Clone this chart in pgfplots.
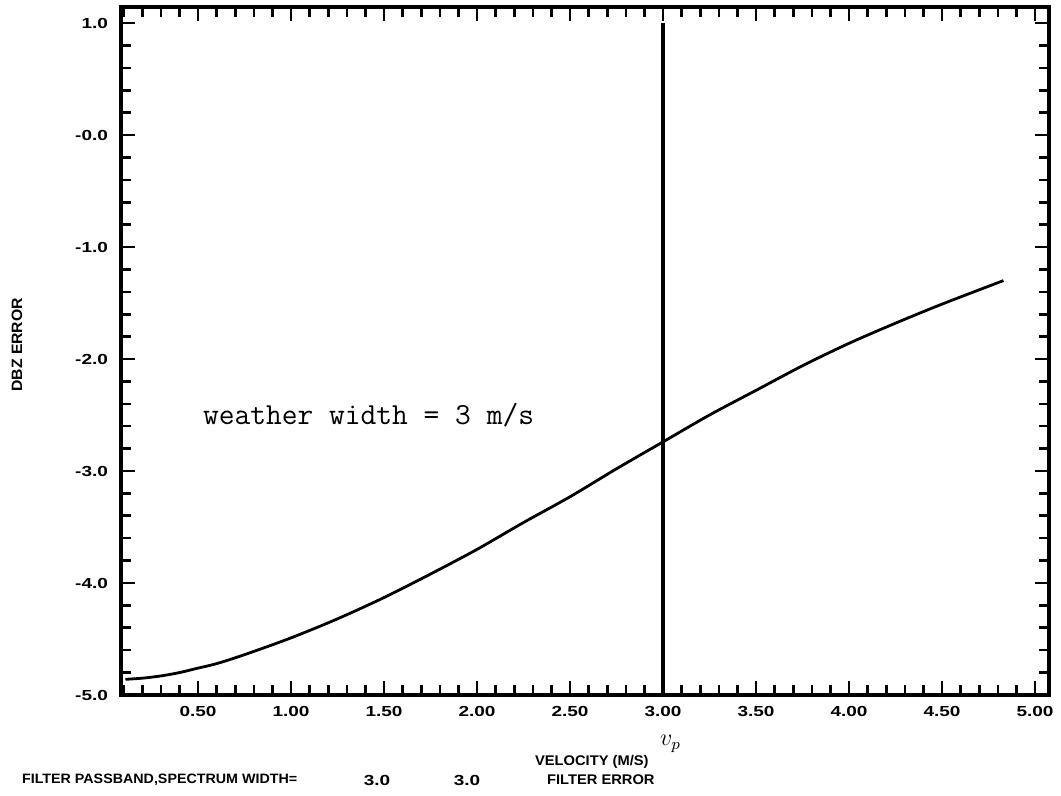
\documentclass[border=0pt]{standalone}
\usepackage{pgfplots}
\pgfplotsset{compat=1.18}
\usepackage{fontspec}
\newfontfamily\digitfont[FakeStretch=1.3]{Liberation Sans}
\newfontfamily\plottxt[FakeStretch=1.05]{Liberation Sans}
\begin{document}
\begin{tikzpicture}
\begin{axis}[
    scale only axis,
    width=464pt, height=344pt,
    xmin=0.086, xmax=5.075,
    ymin=-5, ymax=1.143,
    clip=false,
    axis line style={line width=2pt},
    tick align=inside,
    tick style={black, line width=1.3pt},
    major tick length=7pt,
    minor tick length=5pt,
    xtick={0.5,1,1.5,2,2.5,3,3.5,4,4.5,5},
    xticklabels={0.50,1.00,1.50,2.00,2.50,3.00,3.50,4.00,4.50,5.00},
    minor xtick={0.1,0.2,...,5.0},
    ytick={-5,-4,-3,-2,-1,0,1},
    yticklabels={-5.0,-4.0,-3.0,-2.0,-1.0,-0.0,1.0},
    minor ytick={-5,-4.8,...,1},
    tick label style={font=\digitfont\bfseries\fontsize{7.3}{8}\selectfont},
    xticklabel style={yshift=-2pt},
    yticklabel style={xshift=-3pt},
]
% filter error curve
\addplot[black, line width=1.4pt, smooth] coordinates {
(0.11,-4.86) (0.2,-4.85) (0.3,-4.83) (0.4,-4.80) (0.5,-4.76)
(0.6,-4.72) (0.75,-4.64) (1.0,-4.49) (1.25,-4.32) (1.5,-4.13)
(1.75,-3.92) (2.0,-3.70) (2.25,-3.46) (2.5,-3.23) (2.75,-2.98)
(3.0,-2.74) (3.25,-2.50) (3.5,-2.28) (3.75,-2.06) (4.0,-1.86)
(4.25,-1.68) (4.5,-1.51) (4.83,-1.30)
};
% passband edge
\addplot[black, line width=1.6pt] coordinates {(3,-5) (3,1.0)};

\node[font=\ttfamily\fontsize{15.3}{16}\selectfont] at (axis cs:1.417,-2.5) {weather width = 3 m/s};
\node[xshift=-52pt, rotate=90, font=\plottxt\bfseries\fontsize{7.5}{8}\selectfont] at (rel axis cs:0,0.509) {DBZ ERROR};
\node[yshift=-24.5pt, font=\large] at (axis cs:3.04,-5) {$v_p$};
\node[xshift=203.5pt, yshift=-33.5pt, anchor=west, font=\plottxt\bfseries\fontsize{7}{8}\selectfont] at (rel axis cs:0,0) {VELOCITY (M/S)};
\node[xshift=-53pt, yshift=-42.5pt, anchor=west, font=\plottxt\bfseries\fontsize{6.8}{8}\selectfont] at (rel axis cs:0,0) {FILTER PASSBAND,SPECTRUM WIDTH=};
\node[xshift=128pt, yshift=-42.5pt, font=\digitfont\bfseries\fontsize{7.3}{8}\selectfont] at (rel axis cs:0,0) {3.0};
\node[xshift=173pt, yshift=-42.5pt, font=\digitfont\bfseries\fontsize{7.3}{8}\selectfont] at (rel axis cs:0,0) {3.0};
\node[xshift=209.5pt, yshift=-42.5pt, anchor=west, font=\plottxt\bfseries\fontsize{7}{8}\selectfont] at (rel axis cs:0,0) {FILTER ERROR};
\end{axis}
\pgfresetboundingbox
\path (-60.5pt,-50.5pt) rectangle (470pt,347.5pt);
\end{tikzpicture}
\end{document}
